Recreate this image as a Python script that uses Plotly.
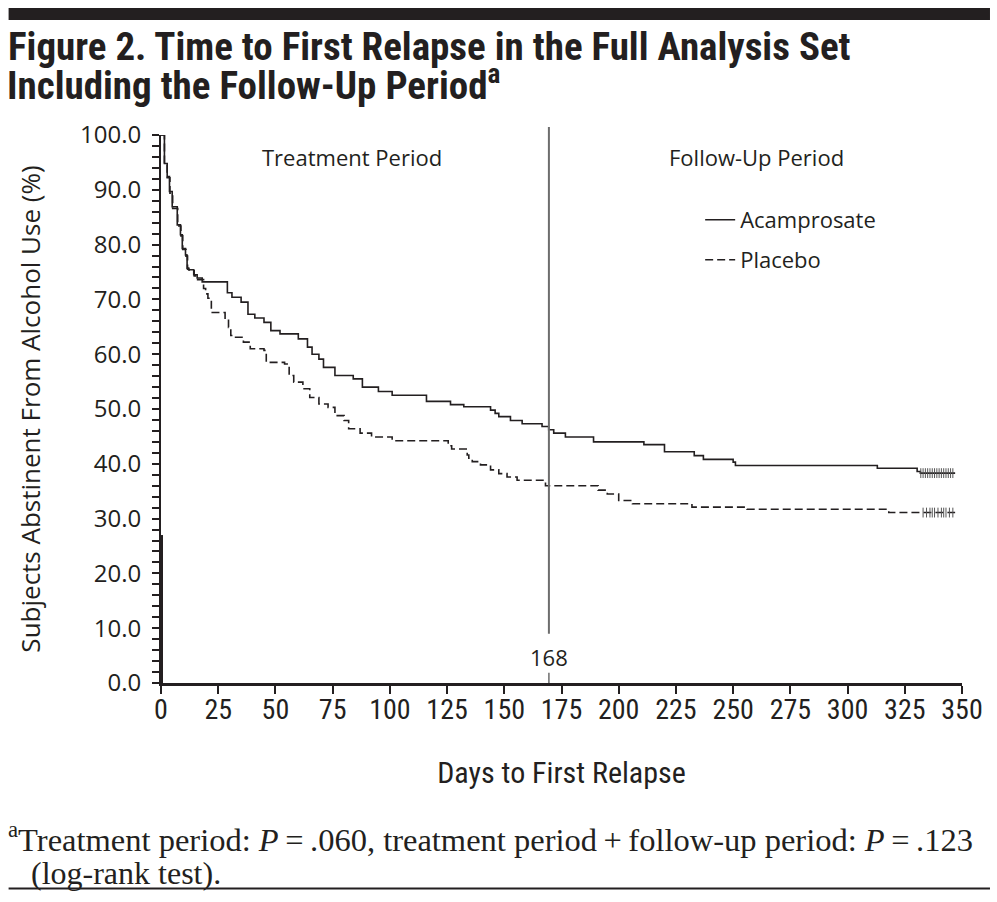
import plotly.graph_objects as go

# ---------------- data ----------------
acamp_days = [0, 1.5, 2.7, 3.7, 4.9, 7.1, 8.5, 9.3, 10.7, 11.4, 12.1, 14.3, 15.8, 18,
              29, 31, 35, 38, 41, 45, 48, 52, 60, 64, 66, 69, 71, 76, 84, 88, 95, 101,
              116, 126.5, 132.3, 144, 146, 147.6, 152.7, 157.8, 166.5, 169.4, 171.6,
              176.7, 189, 211, 220, 233, 237, 250, 251, 313, 330.4, 331.8, 347]
acamp_surv = [100, 94.8, 92.4, 89.7, 86.9, 83.6, 81.8, 79.3, 78.1, 75.7, 75.4, 74.5, 73.9, 73.2,
              71.2, 70.4, 69.5, 67.3, 66.6, 65.8, 64.3, 63.7, 62.8, 61.3, 60.0, 59.1, 57.6, 56.1,
              55.5, 54.0, 53.2, 52.5, 51.4, 50.8, 50.4, 49.8, 49.2, 48.6, 47.9, 47.3, 46.8, 46.2,
              45.6, 44.9, 44.0, 43.5, 42.2, 41.5, 40.8, 40.3, 39.7, 39.2, 38.6, 38.3, 38.3]

placebo_days = [0, 1.5, 2.7, 3.9, 5.1, 7.3, 8.7, 9.5, 10.9, 11.6, 12.3, 14.5, 16, 18.6, 19.5,
                20.5, 22, 28, 29.5, 30.5, 32, 36, 39, 45, 46, 54, 56, 58, 62, 65, 69, 73, 76,
                80, 82, 87, 92, 101, 125.5, 127, 133.8, 134.5, 136, 139.6, 144, 147.6, 151.2,
                155.6, 168, 191, 195, 200, 206, 232, 256, 318, 347]
placebo_surv = [100, 94.6, 92.2, 89.4, 86.6, 83.4, 81.6, 79.1, 77.9, 75.5, 75.2, 74.3, 73.6, 72.0,
                71.0, 70.2, 67.6, 66.4, 64.9, 63.4, 63.1, 62.2, 61.0, 60.7, 58.5, 58.2, 56.1,
                54.9, 53.7, 52.1, 50.9, 50.3, 48.8, 47.9, 46.4, 45.6, 44.9, 44.2, 43.3, 42.7,
                41.6, 41.0, 40.4, 39.8, 38.9, 38.2, 37.6, 37.0, 36.0, 35.2, 34.5, 33.3, 32.7,
                32.1, 31.7, 31.1, 31.1]

acamp_censor_days = [332, 333, 334, 335, 336, 337, 338, 339, 340, 341, 342, 343, 344, 345, 346]
acamp_censor_surv = [38.3] * len(acamp_censor_days)
placebo_censor_days = [333, 334.5, 336, 337, 338, 339.5, 341, 342, 343, 344.5, 346]
placebo_censor_surv = [31.1] * len(placebo_censor_days)

x_ticks = [0, 25, 50, 75, 100, 125, 150, 175, 200, 225, 250, 275, 300, 325, 350]
y_ticks = [0, 10, 20, 30, 40, 50, 60, 70, 80, 90, 100]
treatment_end_label = "168"
divider_day = 169.5

title_line1 = "Figure 2. Time to First Relapse in the Full Analysis Set"
title_line2 = "Including the Follow-Up Period<sup>a</sup>"

# ---------------- layout helpers ----------------
W, H = 997, 902
L, R, T, B = 160.5, 35, 135, 218.7
PW, PH = W - L - R, H - T - B


def px(xp):
    return (xp - L) / PW


def py(yp):
    return (H - B - yp) / PH


SANS = "Open Sans, Noto Sans, sans-serif"
NARROW = "Liberation Sans Narrow, Roboto Condensed, DejaVu Sans Condensed, Roboto, sans-serif"
SERIF = "Liberation Serif, DejaVu Serif, serif"
INK = "#231f20"

fig = go.Figure()
fig.add_trace(go.Scatter(x=acamp_days, y=acamp_surv, mode="lines", line_shape="hv",
                         line=dict(color=INK, width=1.6), name="Acamprosate", legend="legend"))
fig.add_trace(go.Scatter(x=placebo_days, y=placebo_surv, mode="lines", line_shape="hv",
                         line=dict(color=INK, width=1.6, dash="8px,4px"), name="Placebo",
                         legend="legend2"))
fig.add_trace(go.Scatter(x=acamp_censor_days, y=acamp_censor_surv, mode="markers",
                         marker=dict(symbol="line-ns", size=7, line=dict(color="#555", width=1)),
                         showlegend=False, hoverinfo="skip"))
fig.add_trace(go.Scatter(x=placebo_censor_days, y=placebo_censor_surv, mode="markers",
                         marker=dict(symbol="line-ns", size=7, line=dict(color="#555", width=1)),
                         showlegend=False, hoverinfo="skip"))

shapes = [
    # top heavy rule
    dict(type="rect", xref="paper", yref="paper", x0=px(8), x1=px(990), y0=py(20), y1=py(8),
         fillcolor=INK, line=dict(width=0)),
    # bottom rule
    dict(type="line", xref="paper", yref="paper", x0=px(8), x1=px(990), y0=py(889), y1=py(889),
         line=dict(color=INK, width=2)),
    # divider between treatment and follow-up
    dict(type="line", xref="x", yref="paper", x0=divider_day, x1=divider_day, y0=py(634), y1=py(127),
         line=dict(color="#6d6d6d", width=2)),
    dict(type="line", xref="x", yref="paper", x0=divider_day, x1=divider_day, y0=0, y1=py(673),
         line=dict(color="#6d6d6d", width=1.5)),
    # thick lower segment of y axis (as in reference)
    dict(type="line", xref="paper", yref="y", x0=0, x1=0, y0=0, y1=27,
         line=dict(color=INK, width=4)),
]


def label(text, x, y, size, family=SANS, xref="paper", xanchor="center"):
    return dict(text=text, xref=xref, yref="paper", x=x, y=y, xanchor=xanchor,
                yanchor="middle", showarrow=False, font=dict(family=family, size=size, color=INK))


annotations = [
    label("<b>" + title_line2 + "</b>", px(4), py(83), 39, family=NARROW, xanchor="left"),
    label("Treatment Period", px(352), py(157), 22),
    label("Follow-Up Period", px(756), py(157), 22),
    label(treatment_end_label, divider_day, py(657), 22, xref="x"),
    label("<sup>a</sup>Treatment period: <i>P</i>\u2009=\u2009.060, treatment period\u2009+\u2009follow-up period: <i>P</i>\u2009=\u2009.123",
          px(5), py(838), 32.5, family=SERIF, xanchor="left"),
    label("(log-rank test).", px(28), py(873), 32, family=SERIF, xanchor="left"),
]

fig.update_layout(
    width=W, height=H,
    margin=dict(l=L, r=R, t=T, b=B, pad=0),
    paper_bgcolor="white", plot_bgcolor="white",
    title=dict(text="<b>" + title_line1 + "</b>",
               xref="container", yref="container", x=8 / W, xanchor="left",
               y=1 - 46 / H, yanchor="middle",
               font=dict(family=NARROW, size=39, color=INK)),
    shapes=shapes,
    annotations=annotations,
    legend=dict(x=px(700), y=py(199), xanchor="left", yanchor="top",
                font=dict(family=SANS, size=22, color=INK), bgcolor="rgba(0,0,0,0)"),
    legend2=dict(x=px(700), y=py(239), xanchor="left", yanchor="top",
                 font=dict(family=SANS, size=22, color=INK), bgcolor="rgba(0,0,0,0)"),
    xaxis=dict(range=[0, 350], tickvals=x_ticks, ticks="outside", ticklen=8, tickwidth=2,
               tickcolor=INK, showline=True, linewidth=3, linecolor=INK, showgrid=False,
               zeroline=False, tickfont=dict(family=NARROW, size=28, color=INK),
               ticklabelstandoff=-9,
               title=dict(text="Days to First Relapse", standoff=38,
                          font=dict(family=NARROW, size=30, color=INK))),
    yaxis=dict(range=[0, 100], tickvals=y_ticks, tickformat=".1f", ticks="outside", ticklen=7,
               tickwidth=2, tickcolor=INK, showline=True, linewidth=2, linecolor=INK,
               showgrid=False, zeroline=False, ticklabelstandoff=6,
               minor=dict(dtick=2, ticks="outside", ticklen=7, tickwidth=2, tickcolor=INK),
               tickfont=dict(family=SANS, size=24, color=INK),
               title=dict(text="Subjects Abstinent From Alcohol Use (%)", standoff=32,
                          font=dict(family=SANS, size=26, color=INK))),
)

fig.write_html("out.html", config={"displayModeBar": False},
               post_script="document.body.style.margin='0px';")
